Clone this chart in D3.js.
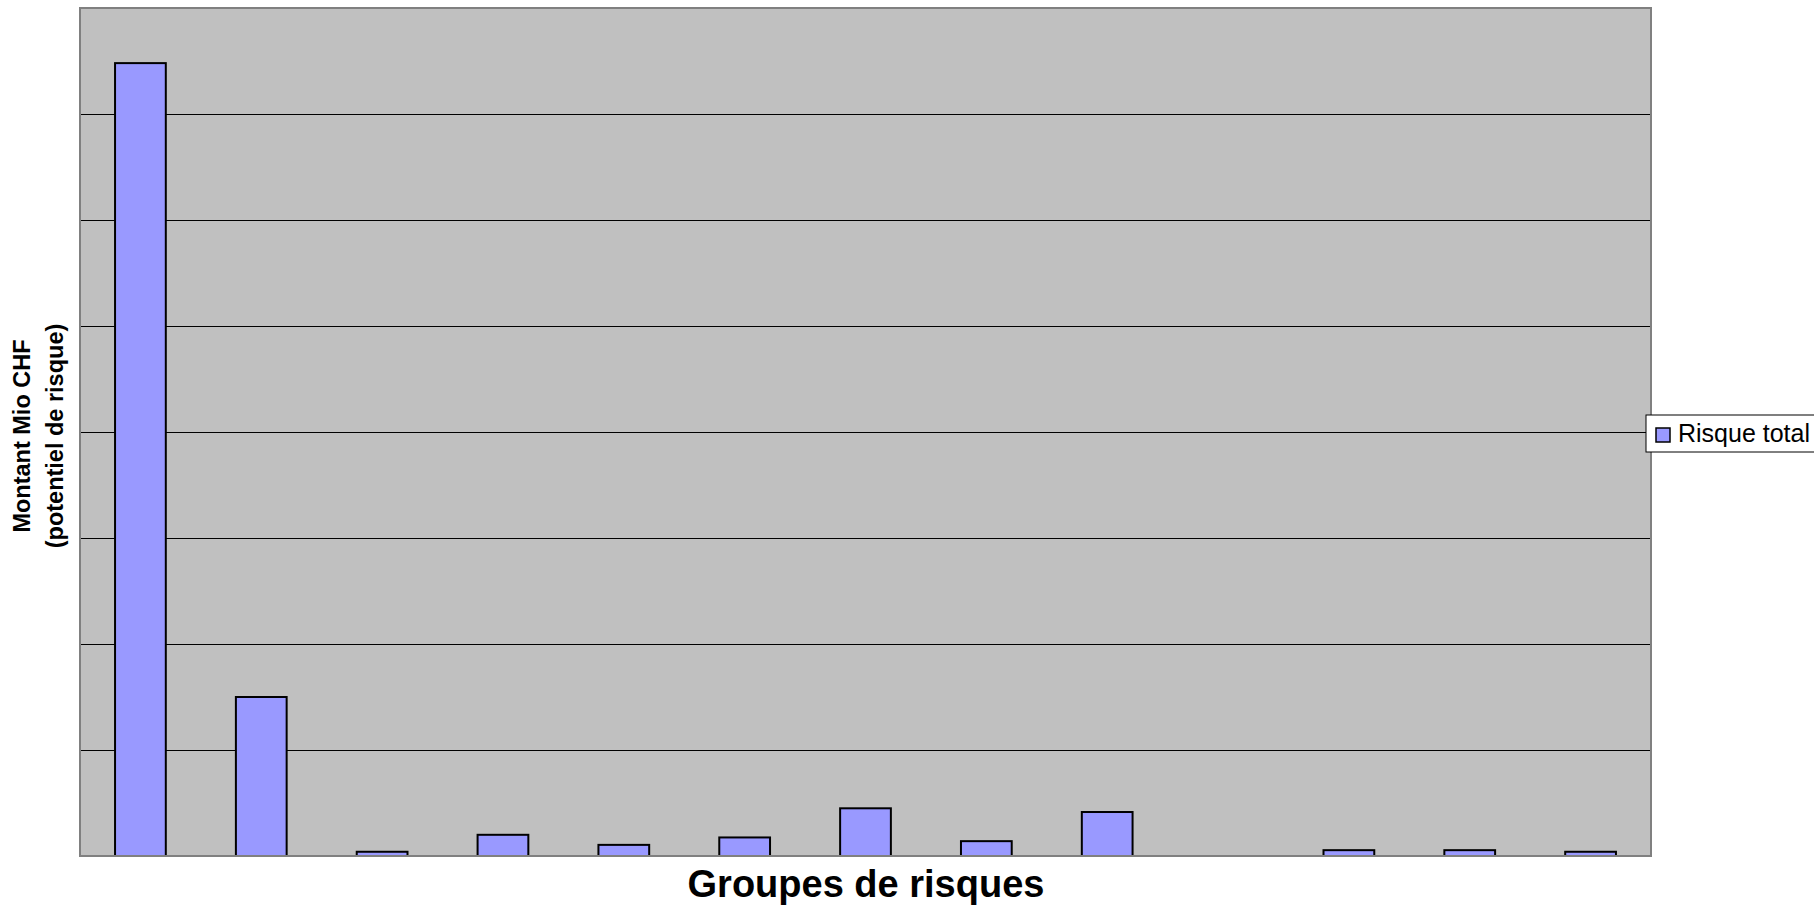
<!DOCTYPE html>
<html>
<head>
<meta charset="utf-8">
<script src="https://cdn.jsdelivr.net/npm/d3@7"></script>
<style>
  body { margin: 0; background: #fff; }
  svg { display: block; font-family: "Liberation Sans", Arial, sans-serif; }
</style>
</head>
<body>
<div id="chart"></div>
<script>
// groupes de risques (no labels shown on the chart)
var categories = ["Groupe 1", "Groupe 2", "Groupe 3", "Groupe 4", "Groupe 5", "Groupe 6", "Groupe 7",
                  "Groupe 8", "Groupe 9", "Groupe 10", "Groupe 11", "Groupe 12", "Groupe 13"];
// Risque total, Mio CHF (gridline = 100)
var risqueTotal = [748, 150, 4, 20, 10.5, 17.5, 45, 14, 41.5, null, 5.5, 5.5, 4];
var yMax = 800;
var gridTicks = [100, 200, 300, 400, 500, 600, 700];
var seriesName = "Risque total";

var W = 1814, H = 906;
var plot = {left: 80, top: 8, right: 1651, bottom: 856};

var svg = d3.select("#chart").append("svg").attr("width", W).attr("height", H);

var x = d3.scaleBand().domain(categories)
  .range([plot.left, plot.right])
  .paddingInner(0.58).paddingOuter(0.29);
var y = d3.scaleLinear().domain([0, yMax]).range([plot.bottom, plot.top]);

// plot area background
svg.append("rect")
  .attr("x", plot.left).attr("y", plot.top)
  .attr("width", plot.right - plot.left).attr("height", plot.bottom - plot.top)
  .style("fill", "#c0c0c0");

// gridlines
var grid = svg.append("g")
  .attr("transform", "translate(" + plot.left + ",0)")
  .call(d3.axisLeft(y).tickValues(gridTicks).tickSize(-(plot.right - plot.left)).tickFormat(""));
grid.select(".domain").remove();
grid.selectAll(".tick line").style("stroke", "#000").style("stroke-width", 1);

// bars
var data = categories.map(function (c, i) { return {cat: c, val: risqueTotal[i]}; })
  .filter(function (d) { return d.val != null; });
svg.append("g").selectAll("rect").data(data).enter().append("rect")
  .attr("x", function (d) { return x(d.cat); })
  .attr("width", x.bandwidth())
  .attr("y", function (d) { return y(d.val); })
  .attr("height", function (d) { return y(0) - y(d.val); })
  .style("fill", "#9999ff").style("stroke", "#000").style("stroke-width", 2);

// plot border
svg.append("rect")
  .attr("x", plot.left).attr("y", plot.top)
  .attr("width", plot.right - plot.left).attr("height", plot.bottom - plot.top)
  .style("fill", "none").style("stroke", "#808080").style("stroke-width", 2);

// y title, two lines
var cy = (plot.top + plot.bottom) / 2 + 4;
var yt = svg.append("text")
  .attr("transform", "translate(22," + cy + ") rotate(-90)")
  .attr("text-anchor", "middle")
  .style("font-weight", "bold").style("font-size", "23.5px");
yt.append("tspan").attr("x", 0).attr("dy", "0.35em").text("Montant Mio CHF");
yt.append("tspan").attr("x", 0).attr("dy", "1.38em").text("(potentiel de risque)");

// x title
svg.append("text")
  .attr("x", 866).attr("y", 897)
  .attr("text-anchor", "middle")
  .style("font-weight", "bold").style("font-size", "38px")
  .text("Groupes de risques");

// legend
var lg = svg.append("g").attr("transform", "translate(1646,415)");
lg.append("rect").attr("width", 170).attr("height", 37)
  .style("fill", "#fff").style("stroke", "#000").style("stroke-width", 1);
lg.append("rect").attr("x", 10).attr("y", 13).attr("width", 14).attr("height", 14)
  .style("fill", "#9999ff").style("stroke", "#000").style("stroke-width", 1.5);
lg.append("text").attr("x", 32).attr("y", 27)
  .style("font-size", "25px")
  .text(seriesName);
</script>
</body>
</html>
